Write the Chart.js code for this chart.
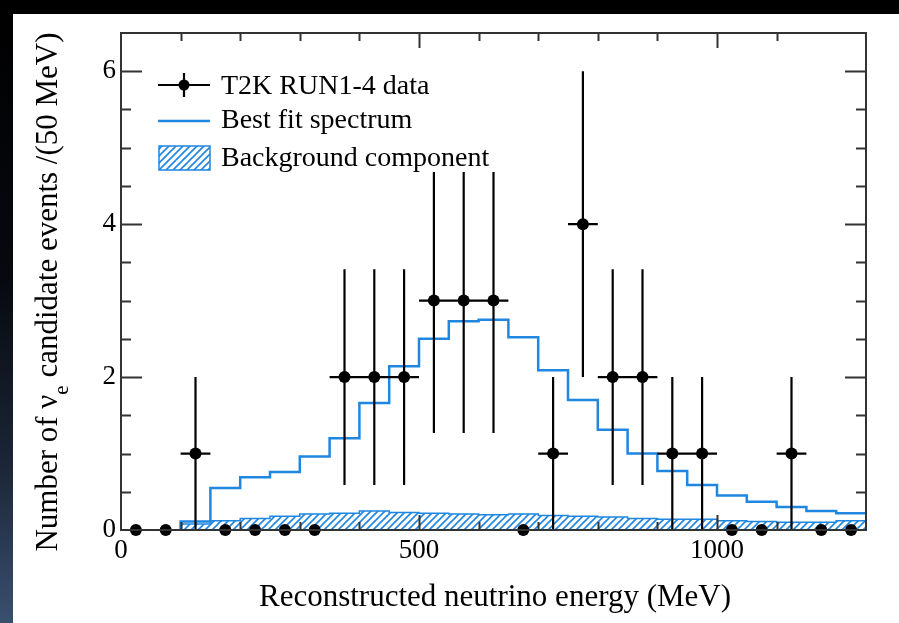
<!DOCTYPE html>
<html>
<head>
<meta charset="utf-8">
<title>T2K electron neutrino candidate spectrum</title>
<script src="https://cdn.jsdelivr.net/npm/chart.js@4/dist/chart.umd.min.js"></script>
<style>
  html, body { margin: 0; padding: 0; background: #fff; }
  #wrap { position: relative; width: 899px; height: 623px; }
</style>
</head>
<body>
<div id="wrap"><canvas id="spectrum" width="899" height="623"></canvas></div>
<script>
// Reconstructed energy bins (MeV), 50 MeV wide
const binCentres = [25, 75, 125, 175, 225, 275, 325, 375, 425, 475, 525, 575, 625,
                    675, 725, 775, 825, 875, 925, 975, 1025, 1075, 1125, 1175, 1225];
const binWidth = 50;

// Observed candidate events per bin and their statistical errors
const observedCounts = [0, 0, 1, 0, 0, 0, 0, 2, 2, 2, 3, 3, 3,
                        0, 1, 4, 2, 2, 1, 1, 0, 0, 1, 0, 0];
const countErrors    = [0, 0, 1, 0, 0, 0, 0, 1.41, 1.41, 1.41, 1.73, 1.73, 1.73,
                        0, 1, 2, 1.41, 1.41, 1, 1, 0, 0, 1, 0, 0];

// Best-fit prediction and its background part
const bestFitSpectrum = [0, 0, 0.11, 0.55, 0.69, 0.76, 0.96, 1.20, 1.66, 2.14, 2.50, 2.73, 2.75,
                         2.52, 2.09, 1.70, 1.31, 1.00, 0.77, 0.59, 0.45, 0.37, 0.30, 0.25, 0.22];
const backgroundComponent = [0, 0, 0.08, 0.12, 0.15, 0.18, 0.21, 0.22, 0.25, 0.23, 0.22, 0.21, 0.20,
                             0.21, 0.19, 0.18, 0.17, 0.15, 0.14, 0.14, 0.12, 0.11, 0.10, 0.10, 0.12];

// Axis ranges and labelled ticks
const xRange = [0, 1250];
const yRange = [0, 6.5];
const xTickLabels = ['0', '500', '1000'];
const yTickLabels = ['0', '2', '4', '6'];

const legendLabels = ['T2K RUN1-4 data', 'Best fit spectrum', 'Background component'];
const xTitle = 'Reconstructed neutrino energy (MeV)';
const yTitleParts = ['Number of \u03BD', 'e', ' candidate events /(50 MeV)'];

const BLUE = '#1f87e0';
const FRAME = '#333333';
const SERIF = '"Liberation Serif", "Times New Roman", serif';

// Histogram outline as stepped points: rises from zero at the first filled bin
function stepPoints(values) {
  const first = values.findIndex(v => v > 0);
  const last = values.length - 1;
  const pts = [{ x: binCentres[first] - binWidth / 2, y: 0 }];
  for (let i = first; i <= last; i++) {
    pts.push({ x: binCentres[i] - binWidth / 2, y: values[i] });
  }
  pts.push({ x: binCentres[last] + binWidth / 2, y: values[last] });
  return pts;
}

const canvas = document.getElementById('spectrum');
const ctx0 = canvas.getContext('2d');

function hatchPattern(color) {
  const s = 7;
  const tile = document.createElement('canvas');
  tile.width = s; tile.height = s;
  const g = tile.getContext('2d');
  g.fillStyle = '#ffffff';
  g.fillRect(0, 0, s, s);
  g.strokeStyle = color;
  g.lineWidth = 1.6;
  g.beginPath();
  g.moveTo(0, s); g.lineTo(s, 0);
  g.moveTo(-1, 1); g.lineTo(1, -1);
  g.moveTo(s - 1, s + 1); g.lineTo(s + 1, s - 1);
  g.stroke();
  return ctx0.createPattern(tile, 'repeat');
}
const hatch = hatchPattern(BLUE);

// Page backdrop: dark band on top and a shaded band on the left
const backdrop = {
  id: 'backdrop',
  beforeDraw(chart) {
    const c = chart.ctx;
    c.save();
    c.fillStyle = '#ffffff';
    c.fillRect(0, 0, chart.width, chart.height);
    c.fillStyle = '#000000';
    c.fillRect(0, 0, chart.width, 14);
    const gr = c.createLinearGradient(0, 0, 0, chart.height);
    gr.addColorStop(0, '#000000');
    gr.addColorStop(0.45, '#07090f');
    gr.addColorStop(0.75, '#1c2637');
    gr.addColorStop(1, '#3a5070');
    c.fillStyle = gr;
    c.fillRect(0, 0, 13, chart.height);
    c.restore();
  }
};

// Vertical and horizontal error bars under the data markers
const errorBars = {
  id: 'errorBars',
  beforeDatasetDraw(chart, args) {
    if (args.index !== 2) return;
    const c = chart.ctx, xs = chart.scales.x, ys = chart.scales.y;
    c.save();
    c.strokeStyle = '#000';
    c.lineWidth = 2.2;
    c.beginPath();
    for (let i = 0; i < binCentres.length; i++) {
      const x = xs.getPixelForValue(binCentres[i]);
      const y = ys.getPixelForValue(observedCounts[i]);
      const xl = xs.getPixelForValue(binCentres[i] - binWidth / 2);
      const xr = xs.getPixelForValue(binCentres[i] + binWidth / 2);
      c.moveTo(xl, y); c.lineTo(xr, y);
      if (countErrors[i] > 0) {
        c.moveTo(x, ys.getPixelForValue(observedCounts[i] - countErrors[i]));
        c.lineTo(x, ys.getPixelForValue(observedCounts[i] + countErrors[i]));
      }
    }
    c.stroke();
    c.restore();
  }
};

// Closed frame with inward tick marks on all four sides
const frame = {
  id: 'frame',
  afterDatasetsDraw(chart) {
    const c = chart.ctx, a = chart.chartArea, xs = chart.scales.x, ys = chart.scales.y;
    c.save();
    c.strokeStyle = FRAME;
    c.lineWidth = 2;
    c.beginPath();
    xs.ticks.forEach(t => {
      if (t.value <= xRange[0] || t.value >= xRange[1]) return;
      const major = xTickLabels.includes(String(t.value));
      const len = major ? 15 : 8;
      const px = Math.round(xs.getPixelForValue(t.value)) + 0.5;
      c.moveTo(px, a.bottom); c.lineTo(px, a.bottom - len);
      c.moveTo(px, a.top); c.lineTo(px, a.top + len);
    });
    ys.ticks.forEach(t => {
      if (t.value <= yRange[0] || t.value >= yRange[1]) return;
      const major = yTickLabels.includes(String(t.value));
      const len = major ? 21 : 10;
      const py = Math.round(ys.getPixelForValue(t.value)) + 0.5;
      c.moveTo(a.left, py); c.lineTo(a.left + len, py);
      c.moveTo(a.right, py); c.lineTo(a.right - len, py);
    });
    c.stroke();
    c.strokeRect(a.left, a.top, a.right - a.left, a.bottom - a.top);
    c.restore();
  }
};

// Legend and axis titles
const annotations = {
  id: 'annotations',
  afterDraw(chart) {
    const c = chart.ctx;
    c.save();
    // legend panel
    c.fillStyle = '#ffffff';
    c.fillRect(150, 58, 350, 114);
    c.font = '28px ' + SERIF;
    c.fillStyle = '#000';
    c.textBaseline = 'alphabetic';
    c.textAlign = 'left';

    // data entry
    c.strokeStyle = '#000';
    c.lineWidth = 2.2;
    c.beginPath();
    c.moveTo(158, 85); c.lineTo(210, 85);
    c.moveTo(184, 73); c.lineTo(184, 97);
    c.stroke();
    c.beginPath(); c.arc(184, 85, 5.5, 0, Math.PI * 2); c.fill();
    c.fillText(legendLabels[0], 221, 94);

    // best fit entry
    c.strokeStyle = BLUE;
    c.lineWidth = 2.5;
    c.beginPath(); c.moveTo(158, 121); c.lineTo(210, 121); c.stroke();
    c.fillText(legendLabels[1], 221, 128);

    // background entry
    c.fillStyle = hatch;
    c.fillRect(159, 146, 51, 24);
    c.strokeStyle = BLUE;
    c.lineWidth = 1.5;
    c.strokeRect(159, 146, 51, 24);
    c.fillStyle = '#000';
    c.fillText(legendLabels[2], 221, 166);

    // x-axis title
    c.font = '31px ' + SERIF;
    c.textAlign = 'center';
    c.fillText(xTitle, 495, 606);

    // y-axis title, with subscript
    c.translate(57, 292);
    c.rotate(-Math.PI / 2);
    c.textAlign = 'left';
    const main = '31px ' + SERIF, sub = '21px ' + SERIF;
    c.font = main; const w0 = c.measureText(yTitleParts[0]).width;
    c.font = sub;  const w1 = c.measureText(yTitleParts[1]).width;
    c.font = main; const w2 = c.measureText(yTitleParts[2]).width;
    let x = -(w0 + w1 + w2) / 2;
    c.font = main; c.fillText(yTitleParts[0], x, 0); x += w0;
    c.font = sub;  c.fillText(yTitleParts[1], x, 11); x += w1;
    c.font = main; c.fillText(yTitleParts[2], x, 0);
    c.restore();
  }
};

new Chart(canvas, {
  type: 'line',
  data: {
    datasets: [
      {
        label: legendLabels[2],
        data: stepPoints(backgroundComponent),
        stepped: true,
        borderColor: BLUE,
        borderWidth: 1.5,
        backgroundColor: hatch,
        fill: 'origin',
        pointRadius: 0,
        order: 3
      },
      {
        label: legendLabels[1],
        data: stepPoints(bestFitSpectrum),
        stepped: true,
        borderColor: BLUE,
        borderWidth: 2.5,
        fill: false,
        pointRadius: 0,
        order: 2
      },
      {
        label: legendLabels[0],
        data: binCentres.map((x, i) => ({ x, y: observedCounts[i] })),
        showLine: false,
        pointRadius: 6,
        pointHoverRadius: 6,
        pointBackgroundColor: '#000',
        pointBorderWidth: 0,
        borderColor: '#000',
        clip: false,
        order: 1
      }
    ]
  },
  options: {
    responsive: false,
    animation: false,
    events: [],
    layout: { padding: { left: 0, right: 33, top: 33, bottom: 0 } },
    plugins: { legend: { display: false }, tooltip: { enabled: false } },
    scales: {
      x: {
        type: 'linear',
        min: xRange[0], max: xRange[1],
        grid: { display: false, drawTicks: false },
        border: { display: false },
        ticks: {
          stepSize: 100,
          autoSkip: false,
          maxRotation: 0,
          padding: 5,
          color: '#000',
          font: { family: SERIF, size: 27 },
          callback: v => xTickLabels.includes(String(v)) ? String(v) : ''
        },
        afterFit: s => { s.height = 93; }
      },
      y: {
        type: 'linear',
        min: yRange[0], max: yRange[1],
        grid: { display: false, drawTicks: false },
        border: { display: false },
        ticks: {
          stepSize: 0.5,
          autoSkip: false,
          padding: 5,
          color: '#000',
          font: { family: SERIF, size: 27 },
          callback: v => yTickLabels.includes(String(v)) ? String(v) : ''
        },
        afterFit: s => { s.width = 121; }
      }
    }
  },
  plugins: [backdrop, errorBars, frame, annotations]
});
</script>
</body>
</html>
